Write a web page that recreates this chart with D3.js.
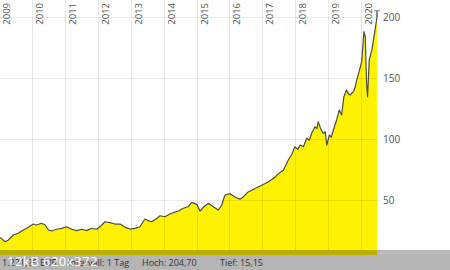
<!DOCTYPE html>
<html>
<head>
<meta charset="utf-8">
<script src="https://cdn.jsdelivr.net/npm/d3@7"></script>
<style>
  body { margin: 0; background: #fff; }
  svg { display: block; font-family: 'Open Sans', 'Noto Sans', sans-serif; }
</style>
</head>
<body>
<div id="chart"></div>
<script>
// Decimal year of each sample
var years = [
  2009.03, 2009.18, 2009.28, 2009.43, 2009.58, 2009.74, 2009.89,
  2010.04, 2010.14, 2010.29, 2010.40, 2010.50, 2010.60, 2010.75, 2010.90,
  2011.05, 2011.21, 2011.36, 2011.51, 2011.66, 2011.81, 2011.97,
  2012.12, 2012.22, 2012.37, 2012.52, 2012.68, 2012.83, 2012.98,
  2013.13, 2013.28, 2013.43, 2013.53, 2013.64, 2013.79, 2013.89,
  2014.04, 2014.19, 2014.29, 2014.45, 2014.60, 2014.75, 2014.85,
  2015.01, 2015.11, 2015.21, 2015.36, 2015.51, 2015.66, 2015.77, 2015.81, 2015.87,
  2016.02, 2016.17, 2016.32, 2016.42, 2016.57, 2016.78, 2016.98,
  2017.18, 2017.39, 2017.49, 2017.64,
  2017.79, 2017.90, 2017.99, 2018.08, 2018.15, 2018.25, 2018.35, 2018.43,
  2018.50, 2018.60, 2018.66, 2018.70, 2018.77, 2018.85, 2018.91, 2018.96,
  2019.04, 2019.10, 2019.16, 2019.26, 2019.34, 2019.41, 2019.48, 2019.56,
  2019.62, 2019.67, 2019.77, 2019.82, 2019.87, 2019.95,
  2020.02, 2020.09, 2020.13, 2020.17, 2020.20, 2020.25, 2020.33, 2020.41,
  2020.48, 2020.49
];

// Closing price for each sample
var prices = [
  19.4, 15.8, 17.2, 21.3, 22.7, 25.4, 27.6,
  30.3, 29.5, 30.9, 29.5, 25.4, 24.6, 26.0, 26.8,
  28.1, 26.0, 24.9, 26.0, 24.9, 26.8, 26.0,
  29.5, 32.2, 31.4, 30.3, 30.3, 27.6, 26.2,
  26.8, 28.1, 34.4, 33.1, 32.2, 34.9, 37.1,
  36.3, 38.5, 39.6, 41.0, 43.2, 44.5, 48.1,
  46.4, 41.0, 44.0, 47.3, 44.5, 41.8, 45.9, 50.0, 54.1,
  55.2, 52.5, 50.6, 52.5, 56.6, 59.4, 62.1,
  64.8, 68.9, 71.6, 74.4,
  82.8, 87.5, 93.7, 91.5, 95.1, 93.7, 100.6, 99.0,
  104.7, 110.1, 108.5, 114.2, 108.7, 104.7, 106.0, 95.1,
  103.3, 101.5, 107.4, 115.6, 123.8, 119.7, 134.7, 140.2,
  137.0, 136.1, 138.8, 142.0, 148.4, 156.0,
  163.4, 188.0, 183.9, 145.7, 134.7, 164.8, 173.0, 186.6,
  198.9, 204.7
];

var yTicks = [50, 100, 150, 200];
var yearTicks = d3.range(2009, 2021);

var footerItems = [
  { text: '1.221,25 EUR', x: 2 },
  { text: 'Intervall: 1 Tag', x: 68 },
  { text: 'Hoch:  204,70', x: 142 },
  { text: 'Tief:  15,15', x: 220 }
];

var width = 450;
var height = 270;
var plotRight = 377;
var plotBottom = 250;
var footerTop = 250;

var data = years.map(function(y, i) {
  return { t: y, v: prices[i] };
});

var x = d3.scaleLinear().domain([2009, 2020]).range([-0.9, 361]);
var y = d3.scaleLinear().domain([0, 200]).range([261, 17]);

var svg = d3.select('#chart').append('svg')
  .attr('width', width)
  .attr('height', height);

// Area under the price line
var area = d3.area()
  .x(function(d) { return x(d.t); })
  .y0(255)
  .y1(function(d) { return y(d.v); });

var line = d3.line()
  .x(function(d) { return x(d.t); })
  .y(function(d) { return y(d.v); });

svg.append('path')
  .datum(data)
  .attr('d', area)
  .attr('fill', '#fff200');

// Grid lines sit on top of the fill so they show through faintly
svg.append('g')
  .selectAll('line.vgrid')
  .data(yearTicks.slice(1))
  .enter()
  .append('line')
    .attr('class', 'vgrid')
    .attr('x1', function(d) { return Math.round(x(d)) + 0.5; })
    .attr('x2', function(d) { return Math.round(x(d)) + 0.5; })
    .attr('y1', 0)
    .attr('y2', plotBottom)
    .attr('stroke', 'rgba(0,0,0,0.09)')
    .attr('stroke-width', 1);

svg.append('g')
  .selectAll('line.hgrid')
  .data(yTicks)
  .enter()
  .append('line')
    .attr('class', 'hgrid')
    .attr('x1', 0)
    .attr('x2', plotRight)
    .attr('y1', function(d) { return Math.round(y(d)) + 0.5; })
    .attr('y2', function(d) { return Math.round(y(d)) + 0.5; })
    .attr('stroke', 'rgba(0,0,0,0.08)')
    .attr('stroke-width', 1);

svg.append('path')
  .datum(data)
  .attr('d', line)
  .attr('fill', 'none')
  .attr('stroke', '#4d4d4d')
  .attr('stroke-width', 1.2)
  .attr('stroke-linejoin', 'round');

// Marker for the high
var high = d3.max(prices);
var highX = x(years[d3.maxIndex(prices)]);
svg.append('line')
  .attr('x1', highX - 3).attr('x2', highX + 3)
  .attr('y1', y(high) - 0.5).attr('y2', y(high) - 0.5)
  .attr('stroke', '#777');
svg.append('line')
  .attr('x1', highX).attr('x2', highX)
  .attr('y1', y(high) - 0.5).attr('y2', y(high) + 6)
  .attr('stroke', '#777');

// Year labels, rotated, to the right of each grid line
svg.append('g')
  .selectAll('text.year')
  .data(yearTicks)
  .enter()
  .append('text')
    .attr('class', 'year')
    .attr('transform', function(d) {
      return 'translate(' + (x(d) + 11) + ',3) rotate(-90)';
    })
    .attr('text-anchor', 'end')
    .attr('font-size', 9.5)
    .attr('fill', '#555')
    .text(function(d) { return d; });

// Price axis on the right
var yAxis = d3.axisRight(y)
  .tickValues(yTicks)
  .tickSize(0)
  .tickPadding(0);

svg.append('g')
  .attr('transform', 'translate(383,0)')
  .call(yAxis)
  .call(function(g) {
    g.select('.domain').remove();
    g.selectAll('text')
      .attr('font-size', 10)
      .attr('fill', '#555')
      .attr('font-family', "'Open Sans', 'Noto Sans', sans-serif");
  });

// Footer bar with a soft shadow over the chart
svg.append('rect')
  .attr('x', 0).attr('y', footerTop)
  .attr('width', width).attr('height', 5)
  .attr('fill', 'rgba(0,0,0,0.27)');
svg.append('rect')
  .attr('x', 0).attr('y', footerTop + 5)
  .attr('width', width).attr('height', height - footerTop - 5)
  .attr('fill', '#b5b5b5');

svg.append('g')
  .selectAll('text.footer')
  .data(footerItems)
  .enter()
  .append('text')
    .attr('class', 'footer')
    .attr('x', function(d) { return d.x; })
    .attr('y', 266)
    .attr('font-size', 9)
    .attr('fill', '#333')
    .text(function(d) { return d.text; });

svg.append('text')
  .attr('x', 7)
  .attr('y', 266)
  .attr('font-size', 13)
  .attr('fill', '#fff')
  .attr('letter-spacing', 0.5)
  .text('12kB 620x372');
</script>
</body>
</html>
